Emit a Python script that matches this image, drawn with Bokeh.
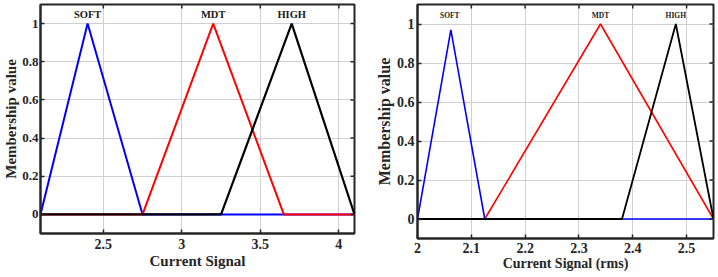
import math
from bokeh.plotting import figure
from bokeh.layouts import row
from bokeh.models import FixedTicker, Range1d
from bokeh.core.properties import value
from bokeh.embed import file_html
from bokeh.resources import INLINE

# ---- Left panel data ----
left_xrange = (2.1, 4.1)
left_soft_x = [2.1, 2.4, 2.75, 4.1]
left_soft_y = [0, 1, 0, 0]
left_mdt_x = [2.1, 2.75, 3.2, 3.65, 4.1]
left_mdt_y = [0, 0, 1, 0, 0]
left_high_x = [2.1, 3.25, 3.7, 4.1]
left_high_y = [0, 0, 1, 0]
left_labels = ["SOFT", "MDT", "HIGH"]
left_label_x = [2.4, 3.2, 3.7]
left_xticks = [2.5, 3, 3.5, 4]
left_xtick_labels = ["2.5", "3", "3.5", "4"]

# ---- Right panel data ----
right_xrange = (2.0, 2.55)
right_soft_x = [2.0, 2.062, 2.125, 2.55]
right_soft_y = [0, 0.97, 0, 0]
right_mdt_x = [2.0, 2.125, 2.34, 2.55]
right_mdt_y = [0, 0, 1, 0]
right_high_x = [2.0, 2.38, 2.48, 2.55]
right_high_y = [0, 0, 1, 0]
right_labels = ["SOFT", "MDT", "HIGH"]
right_label_x = [2.06, 2.34, 2.48]
right_xticks = [2.0, 2.1, 2.2, 2.3, 2.4, 2.5]
right_xtick_labels = ["2", "2.1", "2.2", "2.3", "2.4", "2.5"]

yrange = (-0.1, 1.1)
yticks = [0, 0.2, 0.4, 0.6, 0.8, 1]
ytick_labels = ["0", "0.2", "0.4", "0.6", "0.8", "1"]
label_y = 1.045

FONT = "Liberation Serif"
FRAME = "#262626"
GRID = "#d0d0d0"


def style(p, xticks, xlabels, xrange_, title_x_size, x_title_standoff, x_label_standoff,
          y_tick_size, y_title_size, y_label_standoff, y_title_standoff):
    p.xaxis.ticker = FixedTicker(ticks=xticks)
    p.yaxis.ticker = FixedTicker(ticks=yticks)
    p.xaxis.major_label_overrides = {t: l for t, l in zip(xticks, xlabels)}
    p.yaxis.major_label_overrides = {t: l for t, l in zip(yticks, ytick_labels)}
    for ax in (p.xaxis[0], p.yaxis[0]):
        ax.major_label_text_font = FONT
        ax.major_label_text_font_style = "bold"
        ax.major_label_text_font_size = "14px"
        ax.major_label_text_color = "#262626"
        ax.axis_label_text_font = FONT
        ax.axis_label_text_font_style = "bold"
        ax.axis_label_text_color = "#262626"
        ax.major_tick_in = 4
        ax.major_tick_out = 0
        ax.minor_tick_line_color = None
        ax.axis_line_color = FRAME
        ax.axis_line_width = 2
        ax.major_tick_line_color = FRAME
        ax.major_tick_line_width = 1.5
    p.yaxis.major_label_text_font_size = y_tick_size
    p.yaxis.axis_label_text_font_size = y_title_size
    p.xaxis.axis_label_text_font_size = title_x_size
    p.yaxis.major_label_standoff = y_label_standoff
    p.yaxis.axis_label_standoff = y_title_standoff
    p.xaxis.major_label_standoff = x_label_standoff
    p.xaxis.axis_label_standoff = x_title_standoff
    p.xgrid.ticker = FixedTicker(ticks=xticks)
    p.ygrid.ticker = FixedTicker(ticks=yticks)
    p.grid.grid_line_color = GRID
    p.grid.grid_line_width = 1
    p.outline_line_color = FRAME
    p.outline_line_width = 2
    # MATLAB-style inward ticks on the top and right edges of the box
    p.ray(x=xticks, y=[yrange[1]] * len(xticks), length=4, length_units="screen",
          angle=-math.pi / 2, line_color=FRAME, line_width=1.5)
    p.ray(x=[xrange_[1]] * len(yticks), y=yticks, length=4, length_units="screen",
          angle=math.pi, line_color=FRAME, line_width=1.5)


# ---- Left figure ----
p1 = figure(frame_width=314, frame_height=229,
            x_range=Range1d(*left_xrange), y_range=Range1d(*yrange),
            output_backend="svg", toolbar_location=None,
            min_border_left=39, min_border_right=7, min_border_top=3, min_border_bottom=45)
p1.xaxis.axis_label = "Current Signal"
p1.yaxis.axis_label = "Membership value"
p1.line(left_soft_x, left_soft_y, line_color="#0000ff", line_width=2)
p1.line(left_mdt_x, left_mdt_y, line_color="#ff0000", line_width=2)
p1.line(left_high_x, left_high_y, line_color="#000000", line_width=2.2)
style(p1, left_xticks, left_xtick_labels, left_xrange, "15px", 1, 5,
      "13px", "15px", 2, 0)
p1.text(x=left_label_x, y=[label_y] * 3, text=left_labels,
        text_font=value(FONT), text_font_style="bold", text_font_size="10.5px",
        text_align="center", text_baseline="middle", text_color="#1a1a1a")

# ---- Right figure ----
p2 = figure(frame_width=296, frame_height=234,
            x_range=Range1d(*right_xrange), y_range=Range1d(*yrange),
            output_backend="svg", toolbar_location=None,
            min_border_left=56, min_border_right=6, min_border_top=4, min_border_bottom=39)
p2.xaxis.axis_label = "Current Signal (rms)"
p2.yaxis.axis_label = "Membership value"
p2.line(right_soft_x, right_soft_y, line_color="#0000ff", line_width=1.6)
p2.line(right_mdt_x, right_mdt_y, line_color="#ff0000", line_width=1.6)
p2.line(right_high_x, right_high_y, line_color="#000000", line_width=1.8)
style(p2, right_xticks, right_xtick_labels, right_xrange, "14px", 0, 4,
      "14px", "16px", 3, 1)
p2.text(x=right_label_x, y=[label_y] * 3, text=right_labels,
        text_font=value(FONT), text_font_style="bold", text_font_size="7.5px",
        text_align="center", text_baseline="middle", text_color="#1a1a1a")

layout = row(p1, p2, spacing=0)
open("out.html", "w").write(file_html(layout, INLINE))
